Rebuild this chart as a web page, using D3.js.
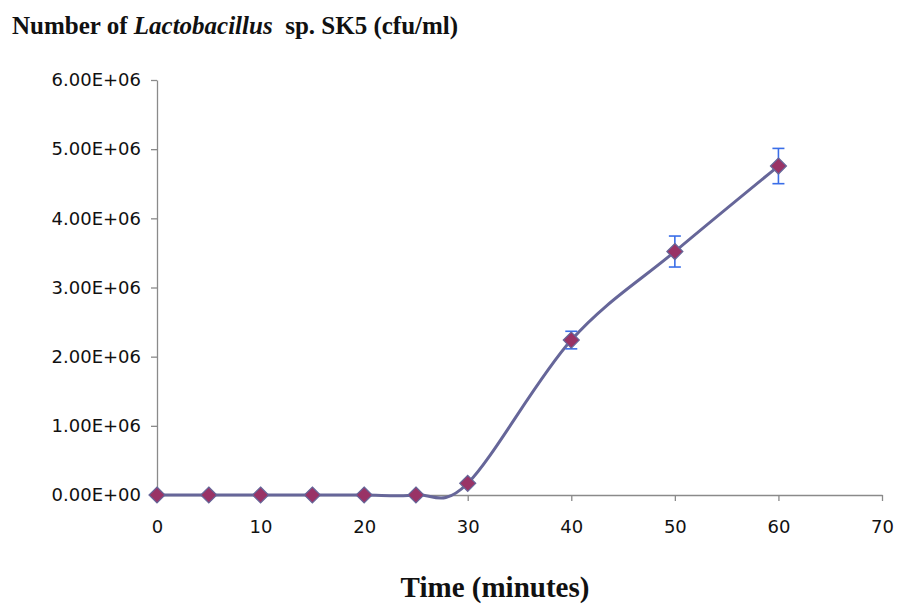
<!DOCTYPE html>
<html>
<head>
<meta charset="utf-8">
<script src="https://cdn.jsdelivr.net/npm/d3@7"></script>
<style>
  body { margin: 0; background: white; }
  svg { display: block; }
</style>
</head>
<body>
<div id="chart"></div>
<script>
// time (minutes) and cell counts (cfu/ml)
var times  = [0, 5, 10, 15, 20, 25, 30, 40, 50, 60];
var counts = [0, 0, 0, 0, 0, 0, 1.69e5, 2.24e6, 3.52e6, 4.756e6];
var errs   = [0, 0, 0, 0, 0, 0, 0, 1.27e5, 2.24e5, 2.55e5];
var xTicks = [0, 10, 20, 30, 40, 50, 60, 70];
var yTicks = [0, 1e6, 2e6, 3e6, 4e6, 5e6, 6e6];

var data = times.map(function(t, i) {
    return { t: t, v: counts[i], e: errs[i] };
});

var svg = d3.select("#chart").append("svg")
    .attr("width", 900)
    .attr("height", 607);

var x = d3.scaleLinear().domain([0, 70]).range([157, 882]);
var y = d3.scaleLinear().domain([0, 6e6]).range([495, 80]);

function sci(d) {
    if (d === 0) return "0.00E+00";
    return (d / 1e6).toFixed(2) + "E+06";
}

var axisColor = "#8a8a8a";

var yAxis = svg.append("g")
    .attr("transform", "translate(157,0)")
    .call(d3.axisLeft(y).tickValues(yTicks).tickFormat(sci).tickSize(6).tickSizeOuter(0).tickPadding(10));

var xAxis = svg.append("g")
    .attr("transform", "translate(0,495)")
    .call(d3.axisBottom(x).tickValues(xTicks).tickSize(6).tickSizeOuter(0).tickPadding(19));

[yAxis, xAxis].forEach(function(g) {
    g.select(".domain").attr("stroke", axisColor).attr("stroke-width", 1.3);
    g.selectAll(".tick line").attr("stroke", axisColor).attr("stroke-width", 1.3);
    g.selectAll(".tick text")
        .attr("fill", "#111")
        .style("font-family", "DejaVu Sans, Verdana, sans-serif")
        .style("font-size", "18px");
});

// smoothed line like the spreadsheet's
var line = d3.line()
    .x(function(d) { return x(d.t); })
    .y(function(d) { return y(d.v); })
    .curve(d3.curveCardinal);

svg.append("path")
    .datum(data)
    .attr("d", line)
    .attr("fill", "none")
    .attr("stroke", "#666699")
    .attr("stroke-width", 3);

// error bars
var errColor = "#3a6ee8";
var eb = svg.append("g").selectAll("g")
    .data(data.filter(function(d) { return d.e > 0; }))
    .enter().append("g")
    .attr("stroke", errColor)
    .attr("stroke-width", 1.6);

eb.append("line")
    .attr("x1", function(d) { return x(d.t); })
    .attr("x2", function(d) { return x(d.t); })
    .attr("y1", function(d) { return y(d.v + d.e); })
    .attr("y2", function(d) { return y(d.v - d.e); });

[1, -1].forEach(function(s) {
    eb.append("line")
        .attr("x1", function(d) { return x(d.t) - 6; })
        .attr("x2", function(d) { return x(d.t) + 6; })
        .attr("y1", function(d) { return y(d.v + s * d.e); })
        .attr("y2", function(d) { return y(d.v + s * d.e); });
});

// diamond markers
svg.append("g").selectAll("path")
    .data(data)
    .enter().append("path")
    .attr("transform", function(d) { return "translate(" + x(d.t) + "," + y(d.v) + ")"; })
    .attr("d", "M0,-8L8,0L0,8L-8,0Z")
    .attr("fill", "#993366")
    .attr("stroke", "#666699")
    .attr("stroke-width", 1.2);

// titles
var title = svg.append("text")
    .attr("x", 12)
    .attr("y", 34)
    .style("font-family", "Liberation Serif, Times New Roman, serif")
    .style("font-weight", "bold")
    .style("font-size", "25px")
    .attr("fill", "#111");
title.append("tspan").text("Number of ");
title.append("tspan").style("font-style", "italic").text("Lactobacillus");
title.append("tspan").attr("xml:space", "preserve").text("  sp. SK5 (cfu/ml)");

svg.append("text")
    .attr("x", 495)
    .attr("y", 597)
    .attr("text-anchor", "middle")
    .style("font-family", "Liberation Serif, Times New Roman, serif")
    .style("font-weight", "bold")
    .style("font-size", "29px")
    .attr("fill", "#111")
    .text("Time (minutes)");
</script>
</body>
</html>
